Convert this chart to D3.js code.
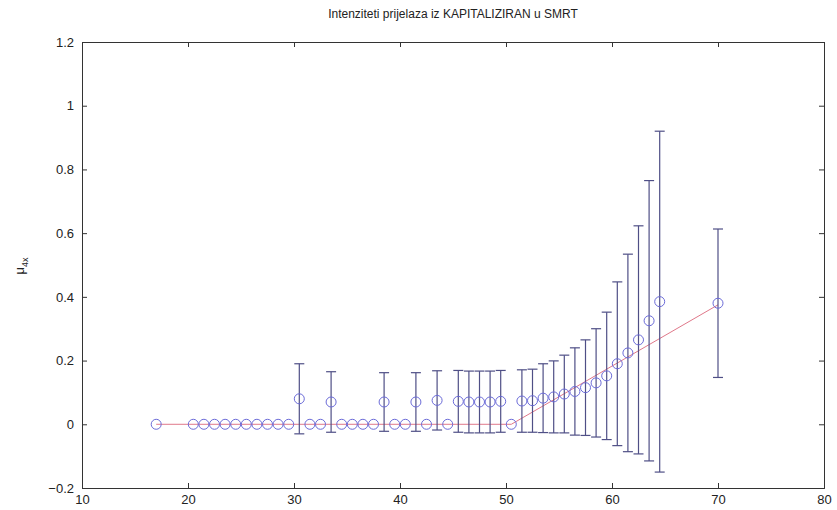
<!DOCTYPE html>
<html>
<head>
<meta charset="utf-8">
<script src="https://cdn.jsdelivr.net/npm/d3@7"></script>
<style>
  body { margin: 0; background: #fff; }
  text { font-family: "Liberation Sans", Arial, sans-serif; fill: #222; }
</style>
</head>
<body>
<div id="chart"></div>
<script>
// ages (x) and estimated intensities with error half-widths
var ages = [17, 20.5, 21.5, 22.5, 23.5, 24.5, 25.5, 26.5, 27.5, 28.5, 29.5,
  30.5, 31.5, 32.5, 33.5, 34.5, 35.5, 36.5, 37.5, 38.5, 39.5, 40.5, 41.5,
  42.5, 43.5, 44.5, 45.5, 46.5, 47.5, 48.5, 49.5, 50.5, 51.5, 52.5, 53.5,
  54.5, 55.5, 56.5, 57.5, 58.5, 59.5, 60.5, 61.5, 62.5, 63.5, 64.5, 70];
var mu = [0, 0, 0, 0, 0, 0, 0, 0, 0, 0, 0,
  0.08, 0, 0, 0.07, 0, 0, 0, 0, 0.07, 0, 0, 0.07,
  0, 0.075, 0, 0.072, 0.07, 0.07, 0.07, 0.072, 0, 0.073, 0.074, 0.082,
  0.086, 0.095, 0.103, 0.115, 0.13, 0.152, 0.19, 0.224, 0.265, 0.325, 0.385, 0.38];
var err = [0, 0, 0, 0, 0, 0, 0, 0, 0, 0, 0,
  0.11, 0, 0, 0.095, 0, 0, 0, 0, 0.092, 0, 0, 0.092,
  0, 0.093, 0, 0.097, 0.097, 0.097, 0.097, 0.097, 0, 0.098, 0.099, 0.108,
  0.113, 0.122, 0.137, 0.15, 0.17, 0.2, 0.257, 0.31, 0.358, 0.44, 0.535, 0.233];

// fitted (graduated) line
var fitX = [17, 50.5, 70];
var fitY = [0, 0, 0.375];

var xTicks = [10, 20, 30, 40, 50, 60, 70, 80];
var yTicks = [-0.2, 0, 0.2, 0.4, 0.6, 0.8, 1, 1.2];

var svgWidth = 837;
var svgHeight = 510;
var margin = { top: 42, right: 13, bottom: 22, left: 82 };
var width = svgWidth - margin.left - margin.right;
var height = svgHeight - margin.top - margin.bottom;

var svg = d3.select("#chart")
    .append("svg")
    .attr("width", svgWidth)
    .attr("height", svgHeight);

var chartGroup = svg.append("g")
    .attr("transform", `translate(${margin.left}, ${margin.top})`);

var xScale = d3.scaleLinear().domain([10, 80]).range([0, width]);
var yScale = d3.scaleLinear().domain([-0.2, 1.2]).range([height, 0]);

var data = ages.map(function(a, i) {
    return { x: a, y: mu[i], e: err[i] };
});

// axes, ticks pointing inward like matlab
var fmt = function(d) { return d3.format("")(+d.toFixed(1)); };

var bottomAxis = d3.axisBottom(xScale).tickValues(xTicks).tickSize(-5).tickPadding(7);
var leftAxis = d3.axisLeft(yScale).tickValues(yTicks).tickSize(-5).tickPadding(8).tickFormat(fmt);
var topAxis = d3.axisTop(xScale).tickValues(xTicks).tickSize(-5).tickFormat("");
var rightAxis = d3.axisRight(yScale).tickValues(yTicks).tickSize(-5).tickFormat("");

chartGroup.append("g")
    .attr("transform", `translate(0, ${height})`)
    .call(bottomAxis);
chartGroup.append("g").call(leftAxis);
chartGroup.append("g").call(topAxis);
chartGroup.append("g")
    .attr("transform", `translate(${width}, 0)`)
    .call(rightAxis);

chartGroup.selectAll(".domain").attr("stroke", "#333");
chartGroup.selectAll(".tick line").attr("stroke", "#333");
chartGroup.selectAll(".tick text")
    .style("font-size", "13px")
    .style("font-family", "'Liberation Sans', Arial, sans-serif")
    .attr("fill", "#333");

// fitted line
var line = d3.line()
    .x(function(d, i) { return xScale(fitX[i]); })
    .y(function(d) { return yScale(d); });

chartGroup.append("path")
    .datum(fitY)
    .attr("d", line)
    .attr("fill", "none")
    .attr("stroke", "#e0788a")
    .attr("stroke-width", 1);

// error bars
var barData = data.filter(function(d) { return d.e > 0; });
var capW = 5;

var bars = chartGroup.append("g")
    .attr("stroke", "#4f4f86")
    .attr("stroke-width", 1.2);

bars.selectAll(".stem")
    .data(barData)
    .enter()
    .append("line")
    .attr("x1", d => xScale(d.x))
    .attr("x2", d => xScale(d.x))
    .attr("y1", d => yScale(d.y - d.e))
    .attr("y2", d => yScale(d.y + d.e));

bars.selectAll(".capTop")
    .data(barData)
    .enter()
    .append("line")
    .attr("x1", d => xScale(d.x) - capW)
    .attr("x2", d => xScale(d.x) + capW)
    .attr("y1", d => yScale(d.y + d.e))
    .attr("y2", d => yScale(d.y + d.e));

bars.selectAll(".capBottom")
    .data(barData)
    .enter()
    .append("line")
    .attr("x1", d => xScale(d.x) - capW)
    .attr("x2", d => xScale(d.x) + capW)
    .attr("y1", d => yScale(d.y - d.e))
    .attr("y2", d => yScale(d.y - d.e));

// circle markers
chartGroup.selectAll("circle")
    .data(data)
    .enter()
    .append("circle")
    .attr("cx", d => xScale(d.x))
    .attr("cy", d => yScale(d.y))
    .attr("r", 5)
    .attr("fill", "none")
    .attr("stroke", "#6b6bd8")
    .attr("stroke-width", 1);

// title
svg.append("text")
    .attr("x", margin.left + width / 2)
    .attr("y", 18)
    .attr("text-anchor", "middle")
    .style("font-size", "12px")
    .text("Intenziteti prijelaza iz KAPITALIZIRAN u SMRT");

// y label: mu_4x
var yLab = svg.append("text")
    .attr("transform", `translate(24, 266) rotate(-90)`)
    .attr("text-anchor", "middle")
    .style("font-size", "13px");
yLab.append("tspan").text("\u03bc");
yLab.append("tspan")
    .attr("dy", 4)
    .style("font-size", "9px")
    .text("4x");
</script>
</body>
</html>
